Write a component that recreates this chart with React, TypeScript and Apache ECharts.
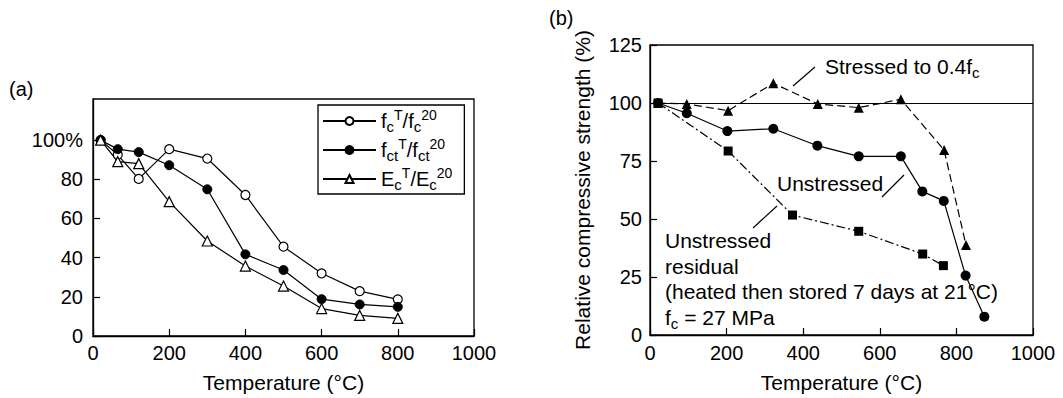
import React, { useEffect, useRef } from "react";
import * as echarts from "echarts";

// ---- Panel (a): normalised properties vs. temperature ----
const tempA = [20, 65, 120, 200, 300, 400, 500, 600, 700, 800];
const fcRatio = [100, 92.5, 80.2, 95.4, 90.6, 72, 45.6, 32, 22.9, 18.7];
const fctRatio = [100, 95.4, 93.9, 87.2, 74.9, 41.7, 33.7, 18.8, 16.1, 14.9];
const ecRatio = [100, 89, 88, 68.6, 48.5, 35.7, 25.5, 14, 10.5, 9];
const yTicksA = [0, 20, 40, 60, 80, 100];
const tempTicks = [0, 200, 400, 600, 800, 1000];

// ---- Panel (b): relative compressive strength ----
const stressedTemp = [21, 96, 204, 322, 438, 545, 655, 768, 825];
const stressedStrength = [100, 99.6, 96.7, 108.5, 99.6, 98, 101.6, 79.7, 38.8];
const unstressedTemp = [21, 96, 202, 322, 437, 545, 655, 711, 767, 824, 873];
const unstressedStrength = [100, 95.6, 87.9, 88.9, 81.6, 77, 77, 61.9, 57.8, 25.6, 7.9];
const residualTemp = [21, 204, 372, 545, 712, 766];
const residualStrength = [100, 79.3, 51.7, 44.7, 34.9, 29.9];
const yTicksB = [0, 25, 50, 75, 100, 125];
const referenceLevel = 100;

const FONT = "'Liberation Sans', Arial, Helvetica, sans-serif";
const INK = "#000";

const pairs = (xs: number[], ys: number[]) => xs.map((x, i) => [x, ys[i]]);

// rich-text styles for sub/superscripts (legend)
const richScript = {
  b: { fontSize: 20, fontFamily: FONT, color: INK, lineHeight: 26 },
  sub: { fontSize: 15, fontFamily: FONT, color: INK, lineHeight: 26, verticalAlign: "bottom" },
  sup: { fontSize: 14, fontFamily: FONT, color: INK, lineHeight: 26, verticalAlign: "top" },
};

// rich-text styles for annotations drawn with the graphic component
const graphicRich = {
  b: { fontSize: 21, fontFamily: FONT, fill: INK, lineHeight: 28 },
  sub: { fontSize: 15, fontFamily: FONT, fill: INK, lineHeight: 28, verticalAlign: "bottom" },
};

const legendLabels: Record<string, string> = {
  fc: "{b|f}{sub|c}{sup|T}{b|/f}{sub|c}{sup|20}",
  fct: "{b|f}{sub|ct}{sup|T}{b|/f}{sub|ct}{sup|20}",
  Ec: "{b|E}{sub|c}{sup|T}{b|/E}{sub|c}{sup|20}",
};

function axisCommon(fontSize: number) {
  return {
    axisLine: { show: true, onZero: false, lineStyle: { color: INK, width: 1.3 } },
    axisTick: { show: true, inside: true, length: 7, lineStyle: { color: INK, width: 1.2 } },
    splitLine: { show: false },
    axisLabel: { color: INK, fontSize, fontFamily: FONT, formatter: (v: number) => String(v) },
    nameTextStyle: { color: INK, fontSize: 21, fontFamily: FONT },
  };
}

export default function App() {
  const ref = useRef<HTMLDivElement>(null);

  useEffect(() => {
    if (!ref.current) return;
    const chart = echarts.init(ref.current, null, { renderer: "svg" });
    const base = axisCommon(20);

    const option: any = {
      animation: false,
      backgroundColor: "#fff",
      textStyle: { fontFamily: FONT, color: INK },
      grid: [
        { left: 93, top: 99, width: 381, height: 237, show: true, borderColor: INK, borderWidth: 1.3, backgroundColor: "transparent" },
        { left: 650, top: 45, width: 383, height: 290, show: true, borderColor: INK, borderWidth: 1.3, backgroundColor: "transparent" },
      ],
      xAxis: [
        {
          ...base,
          gridIndex: 0,
          type: "value",
          min: 0,
          max: 1000,
          interval: 200,
          axisLabel: { ...base.axisLabel, margin: 7, customValues: tempTicks },
          axisTick: { ...base.axisTick, customValues: tempTicks },
          name: "Temperature (°C)",
          nameLocation: "middle",
          nameGap: 36,
        },
        {
          ...base,
          gridIndex: 1,
          type: "value",
          min: 0,
          max: 1000,
          interval: 200,
          axisLabel: { ...base.axisLabel, margin: 8, customValues: tempTicks },
          axisTick: { ...base.axisTick, customValues: tempTicks },
          name: "Temperature (°C)",
          nameLocation: "middle",
          nameGap: 37,
        },
      ],
      yAxis: [
        {
          ...base,
          gridIndex: 0,
          type: "value",
          min: 0,
          max: 121,
          interval: 20,
          axisLabel: {
            ...base.axisLabel,
            margin: 10,
            customValues: yTicksA,
            formatter: (v: number) => (v === 100 ? "100%" : String(v)),
          },
          axisTick: { ...base.axisTick, customValues: yTicksA },
        },
        {
          ...base,
          gridIndex: 1,
          type: "value",
          min: 0,
          max: 125,
          interval: 25,
          axisLabel: { ...base.axisLabel, margin: 8, customValues: yTicksB },
          axisTick: { ...base.axisTick, customValues: yTicksB },
          name: "Relative compressive strength (%)",
          nameLocation: "middle",
          nameGap: 57,
        },
      ],
      legend: {
        left: 318,
        top: 105,
        orient: "vertical",
        data: ["fc", "fct", "Ec"],
        itemWidth: 53,
        itemHeight: 10,
        itemGap: 3,
        borderColor: INK,
        borderWidth: 1.3,
        padding: [3, 12, 2, 4],
        backgroundColor: "#fff",
        selectedMode: false,
        formatter: (name: string) => legendLabels[name],
        textStyle: { fontSize: 20, fontFamily: FONT, color: INK, rich: richScript },
      },
      series: [
        {
          name: "fc",
          type: "line",
          xAxisIndex: 0,
          yAxisIndex: 0,
          data: pairs(tempA, fcRatio),
          symbol: "circle",
          symbolSize: 9,
          itemStyle: { color: "#fff", borderColor: INK, borderWidth: 1.2 },
          lineStyle: { color: INK, width: 1.2 },
        },
        {
          name: "fct",
          type: "line",
          xAxisIndex: 0,
          yAxisIndex: 0,
          data: pairs(tempA, fctRatio),
          symbol: "circle",
          symbolSize: 9,
          itemStyle: { color: INK, borderColor: INK, borderWidth: 1 },
          lineStyle: { color: INK, width: 1.2 },
        },
        {
          name: "Ec",
          type: "line",
          xAxisIndex: 0,
          yAxisIndex: 0,
          data: pairs(tempA, ecRatio),
          symbol: "triangle",
          symbolSize: 10,
          itemStyle: { color: "#fff", borderColor: INK, borderWidth: 1.2 },
          lineStyle: { color: INK, width: 1.2 },
        },
        {
          name: "Stressed",
          type: "line",
          xAxisIndex: 1,
          yAxisIndex: 1,
          data: pairs(stressedTemp, stressedStrength),
          symbol: "triangle",
          symbolSize: 10,
          itemStyle: { color: INK },
          lineStyle: { color: INK, width: 1.2, type: [8, 4] },
        },
        {
          name: "Residual",
          type: "line",
          xAxisIndex: 1,
          yAxisIndex: 1,
          data: pairs(residualTemp, residualStrength),
          symbol: "rect",
          symbolSize: 9,
          itemStyle: { color: INK },
          lineStyle: { color: INK, width: 1.2, type: [9, 3, 2, 3] },
        },
        {
          name: "Unstressed",
          type: "line",
          xAxisIndex: 1,
          yAxisIndex: 1,
          data: pairs(unstressedTemp, unstressedStrength),
          symbol: "circle",
          symbolSize: 10,
          itemStyle: { color: INK },
          lineStyle: { color: INK, width: 1.2 },
          markLine: {
            silent: true,
            symbol: "none",
            label: { show: false },
            lineStyle: { color: INK, width: 1.2, type: "solid" },
            data: [{ yAxis: referenceLevel }],
          },
        },
      ],
      graphic: [
        { type: "text", x: 9, y: 89, style: { text: "(a)", fontSize: 20, fontFamily: FONT, fill: INK, verticalAlign: "middle" } },
        { type: "text", x: 549, y: 18, style: { text: "(b)", fontSize: 20, fontFamily: FONT, fill: INK, verticalAlign: "middle" } },
        {
          type: "text",
          x: 825,
          y: 66,
          style: { text: "{b|Stressed to 0.4f}{sub|c}", rich: graphicRich, verticalAlign: "middle", fill: INK },
        },
        { type: "line", shape: { x1: 793, y1: 86, x2: 815, y2: 67 }, style: { stroke: INK, lineWidth: 1.2 } },
        { type: "text", x: 777, y: 183, style: { text: "Unstressed", fontSize: 21, fontFamily: FONT, fill: INK, verticalAlign: "middle" } },
        { type: "line", shape: { x1: 882, y1: 197, x2: 904, y2: 175 }, style: { stroke: INK, lineWidth: 1.2 } },
        { type: "line", shape: { x1: 753, y1: 228, x2: 777, y2: 206 }, style: { stroke: INK, lineWidth: 1.2 } },
        { type: "text", x: 665, y: 240, style: { text: "Unstressed", fontSize: 21, fontFamily: FONT, fill: INK, verticalAlign: "middle" } },
        { type: "text", x: 665, y: 266, style: { text: "residual", fontSize: 21, fontFamily: FONT, fill: INK, verticalAlign: "middle" } },
        {
          type: "text",
          x: 665,
          y: 291,
          style: { text: "(heated then stored 7 days at 21°C)", fontSize: 21, fontFamily: FONT, fill: INK, verticalAlign: "middle" },
        },
        {
          type: "text",
          x: 665,
          y: 317,
          style: { text: "{b|f}{sub|c}{b| = 27 MPa}", rich: graphicRich, verticalAlign: "middle", fill: INK },
        },
      ],
    };

    chart.setOption(option);
    return () => chart.dispose();
  }, []);

  return (
    <div
      ref={ref}
      style={{ position: "absolute", left: 0, top: 0, width: 1063, height: 398, background: "#fff" }}
    />
  );
}
